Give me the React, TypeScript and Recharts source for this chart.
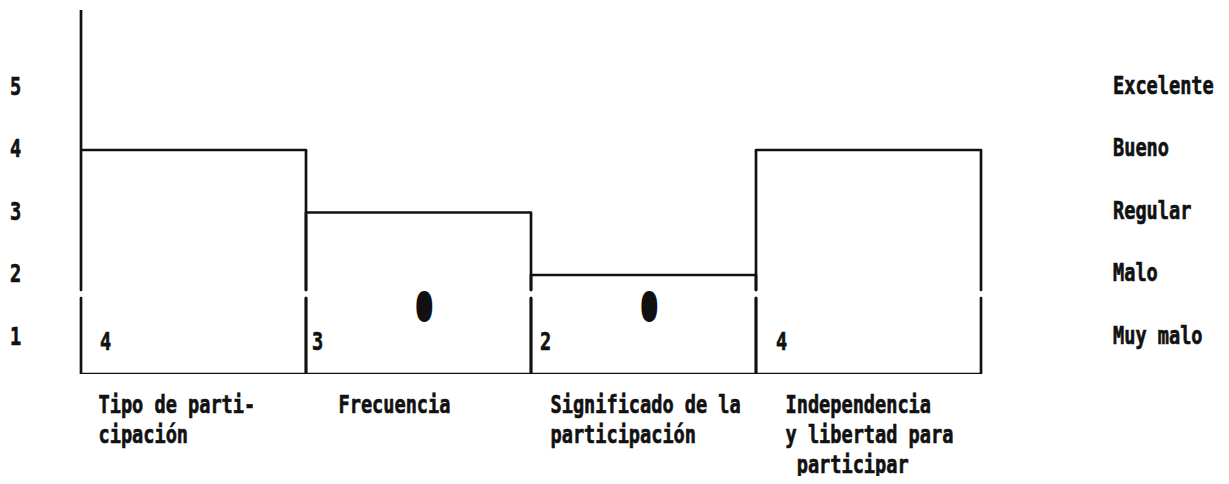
import React from 'react';
import { BarChart, Bar, XAxis, YAxis, LabelList } from 'recharts';

// ---- data ----
const categories = [
  'Tipo de participación',
  'Frecuencia',
  'Significado de la participación',
  'Independencia y libertad para participar',
];
const categoryLines = [
  ['Tipo de parti-', 'cipación'],
  ['Frecuencia'],
  ['Significado de la', 'participación'],
  ['Independencia', 'y libertad para', ' participar'],
];
const scores = [4, 3, 2, 4];
const markers = ['', '0', '0', ''];
const yTicks = [1, 2, 3, 4, 5];
const ratingLabels = ['Muy malo', 'Malo', 'Regular', 'Bueno', 'Excelente'];

const data = categories.map((name, i) => ({ name, score: scores[i], marker: markers[i] }));

// ---- style ----
const FONT = '"DejaVu Sans Mono", monospace';
const FS = 18.6;
const SY = 1.35;
const INK = '#111';
const W = 1213;
const H = 476;

const ScaledText = ({ x, y, children, sx = 1, sy = SY, sw = 0.5 }: any) => (
  <text
    transform={`translate(${x},${y}) scale(${sx},${sy})`}
    x={0}
    y={0}
    fontFamily={FONT}
    fontWeight="bold"
    fontSize={FS}
    fill={INK}
    stroke={INK}
    strokeWidth={sw}
    style={{ whiteSpace: 'pre' }}
  >
    {children}
  </text>
);

const LeftTick = (props: any) => {
  const { x, y, payload } = props;
  return <ScaledText x={x - 71} y={y + 7}>{String(payload.value)}</ScaledText>;
};

const RightTick = (props: any) => {
  const { x, y, payload } = props;
  const idx = yTicks.indexOf(payload.value);
  return <ScaledText x={x + 132} y={y + 6}>{ratingLabels[idx]}</ScaledText>;
};

const tickDx = [-95, -80, -93, -83];
const CatTick = (props: any) => {
  const { x, y, payload, index } = props;
  const i = typeof index === 'number' ? index : categories.indexOf(payload.value);
  const lines = categoryLines[i] || [];
  return (
    <g>
      {lines.map((ln, k) => (
        <ScaledText key={k} x={x + tickDx[i]} y={y + 39 + k * 30}>{ln}</ScaledText>
      ))}
    </g>
  );
};

const OutlineBar = (props: any) => {
  const { x, y, width, height, index, background } = props;
  const bottom = y + height;
  const gTop = bottom - 84;
  const gBot = bottom - 76;
  const topY = index === 0 && background ? background.y : y;
  const r = x + width;
  const d = `M${x},${gTop} L${x},${topY} M${x},${y} L${r},${y} L${r},${gTop} M${x},${gBot} L${x},${bottom} L${r},${bottom} L${r},${gBot}`;
  return <path d={d} fill="none" stroke={INK} strokeWidth={2.7} strokeLinejoin="round" strokeLinecap="round" />;
};

const valueDx = [19, 6, 9, 20];
const ValueLabel = (props: any) => {
  const { x, y, height, index, value } = props;
  const bottom = y + height;
  return <ScaledText x={x + valueDx[index]} y={bottom - 24}>{String(value)}</ScaledText>;
};

const MarkerLabel = (props: any) => {
  const { x, y, width, height, value } = props;
  if (!value) return null;
  const bottom = y + height;
  const cx = x + width / 2 + 5;
  return <ScaledText x={cx - 6.5} y={bottom - 55} sx={1.3} sy={1.8} sw={3.2}>{String(value)}</ScaledText>;
};

export default function App() {
  return (
    <div style={{ width: W, height: H, marginBottom: -8, background: '#fff' }}>
      <BarChart
        width={W}
        height={H}
        data={data}
        margin={{ top: 2, right: 0, bottom: 0, left: 0 }}
        barCategoryGap={0}
        barGap={0}
      >
        <XAxis
          dataKey="name"
          height={110}
          axisLine={false}
          tickLine={false}
          tickSize={0}
          tickMargin={0}
          interval={0}
          tick={<CatTick />}
        />
        <YAxis
          yAxisId="left"
          orientation="left"
          width={73}
          domain={[0.416, 6.24]}
          allowDataOverflow
          ticks={yTicks}
          axisLine={false}
          tickLine={false}
          tickSize={0}
          tickMargin={0}
          tick={<LeftTick />}
        />
        <YAxis
          yAxisId="right"
          orientation="right"
          width={240}
          domain={[0.416, 6.24]}
          allowDataOverflow
          ticks={yTicks}
          axisLine={false}
          tickLine={false}
          tickSize={0}
          tickMargin={0}
          tick={<RightTick />}
        />
        <Bar yAxisId="left" dataKey="score" shape={<OutlineBar />} isAnimationActive={false}>
          <LabelList dataKey="score" content={<ValueLabel />} />
          <LabelList dataKey="marker" content={<MarkerLabel />} />
        </Bar>
      </BarChart>
    </div>
  );
}
